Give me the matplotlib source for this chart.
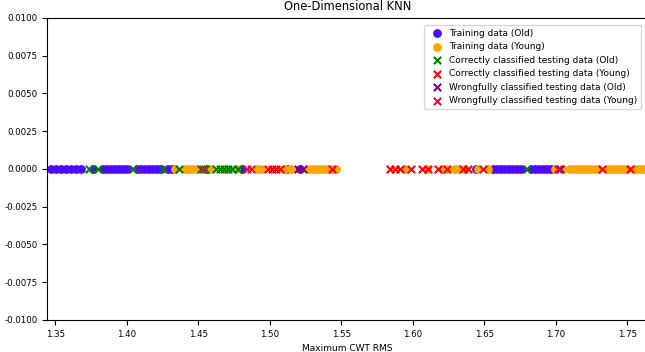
import matplotlib
matplotlib.use('Agg')
import matplotlib.pyplot as plt
import numpy as np

# values (Maximum CWT RMS)
train_old = [1.3472, 1.3507, 1.3542, 1.3577, 1.3612, 1.3647, 1.3682, 1.3765,
             1.3835, 1.3863, 1.3891, 1.3919, 1.3947, 1.3975, 1.4003,
             1.4073, 1.4101, 1.4128, 1.4156, 1.4184, 1.4212, 1.4240,
             1.4289, 1.4317, 1.4561, 1.4806, 1.5120, 1.5211, 1.6440,
             1.6559, 1.6587, 1.6615, 1.6642, 1.6670, 1.6698, 1.6726, 1.6754,
             1.6824, 1.6852, 1.6880, 1.6908, 1.6936, 1.6964]
train_young = [1.4338, 1.4408, 1.4436, 1.4464, 1.4492, 1.4589, 1.4694, 1.4764,
               1.4911, 1.4939, 1.5106, 1.5148, 1.5267, 1.5295, 1.5323, 1.5351,
               1.5378, 1.5406, 1.5434, 1.5460, 1.5944, 1.6098, 1.6209, 1.6237,
               1.6293, 1.6321, 1.6363, 1.6454, 1.6524, 1.6992, 1.7047, 1.7096,
               1.7124, 1.7152, 1.7180, 1.7208, 1.7236, 1.7264, 1.7292, 1.7355,
               1.7383, 1.7411, 1.7439, 1.7466, 1.7494, 1.7550, 1.7578, 1.7606]
correct_old = [1.3737, 1.3800, 1.4045, 1.4254, 1.4366, 1.4520, 1.4547, 1.4624,
               1.4652, 1.4680, 1.4708, 1.4736, 1.4778, 1.6796]
correct_young = [1.4987, 1.5015, 1.5043, 1.5071, 1.5435, 1.5839, 1.5874, 1.5909,
                 1.5986, 1.6063, 1.6105, 1.6175, 1.6237, 1.6349, 1.6384, 1.6489,
                 1.7320, 1.7515]
wrong_old = [1.5197, 1.5232, 1.7026]
wrong_young = [1.4534, 1.4841, 1.4869, 1.7012]

plt.rcParams['font.size'] = 6.2
plt.rcParams['axes.unicode_minus'] = False

fig = plt.figure(figsize=(6.45, 3.52), dpi=100)
ax = fig.add_axes([0.073, 0.091, 0.932, 0.858])

ax.scatter(train_old, np.zeros(len(train_old)), color='#5008ff', s=28, label='Training data (Old)')
ax.scatter(train_young, np.zeros(len(train_young)), color='orange', s=28, label='Training data (Young)')
ax.scatter(correct_old, np.zeros(len(correct_old)), color='green', marker='x', s=28,
           label='Correctly classified testing data (Old)')
ax.scatter(correct_young, np.zeros(len(correct_young)), color='red', marker='x', s=28,
           label='Correctly classified testing data (Young)')
ax.scatter(wrong_old, np.zeros(len(wrong_old)), color='purple', marker='x', s=28,
           label='Wrongfully classified testing data (Old)')
ax.scatter(wrong_young, np.zeros(len(wrong_young)), color='crimson', marker='x', s=28,
           label='Wrongfully classified testing data (Young)')

ax.set_xlim(1.3444, 1.7645)
ax.set_ylim(-0.01, 0.01)
ax.set_xticks([1.35, 1.40, 1.45, 1.50, 1.55, 1.60, 1.65, 1.70, 1.75])
ax.tick_params(labelsize=6.2)
ax.set_title('One-Dimensional KNN', fontsize=8.3)
ax.set_xlabel('Maximum CWT RMS', fontsize=6.5)
ax.legend(loc='upper right', fontsize=6.5, handletextpad=0.4, borderaxespad=0.8)

plt.savefig('out.png', dpi=100)
